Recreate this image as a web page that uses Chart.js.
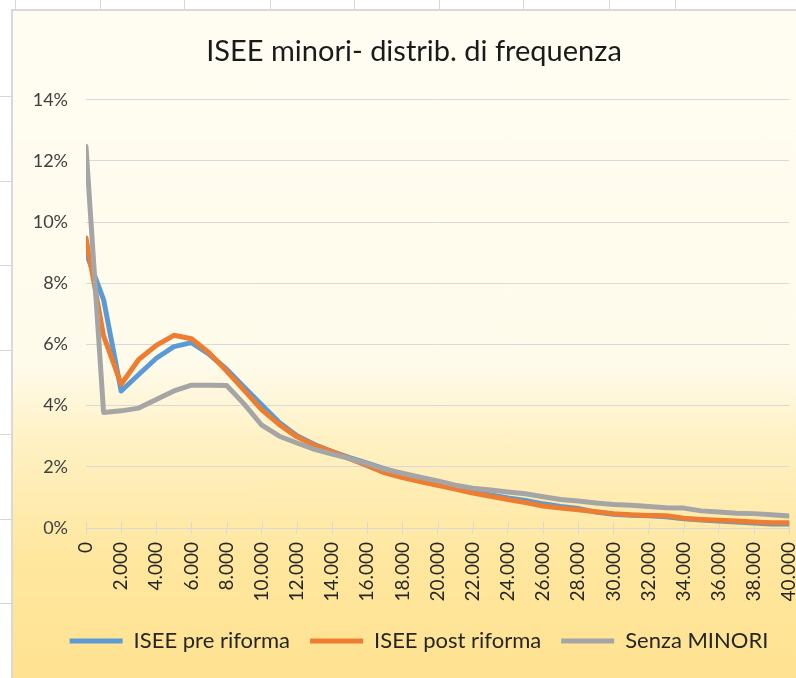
<!DOCTYPE html>
<html>
<head>
<meta charset="utf-8">
<script src="https://cdn.jsdelivr.net/npm/chart.js@4.4.0/dist/chart.umd.min.js"></script>
<style>
    html, body {
        margin: 0;
        padding: 0;
        background: #fff;
        width: 796px;
        height: 678px;
        overflow: hidden;
        position: relative;
        font-family: Lato, sans-serif;
    }
    .hl { position: absolute; left: 0; width: 12px; height: 1px; background: #d6d6d6; }
    .vl { position: absolute; top: 0; width: 1px; height: 10px; background: #d6d6d6; }
    #box {
        position: absolute;
        left: 11px;
        top: 9px;
        width: 807px;
        height: 680px;
        border: 2px solid #d9d9d9;
        background: linear-gradient(to bottom, #fffdf2 0%, #fffbeb 52%, #fff1c4 63%, #ffe79f 80%, #ffe290 100%);
    }
    #wrap { position: relative; width: 807px; height: 680px; }
</style>
</head>
<body>
<div class="vl" style="left:15px"></div>
<div class="vl" style="left:100px"></div>
<div class="vl" style="left:184px"></div>
<div class="vl" style="left:270px"></div>
<div class="vl" style="left:354px"></div>
<div class="vl" style="left:439px"></div>
<div class="vl" style="left:523px"></div>
<div class="vl" style="left:609px"></div>
<div class="vl" style="left:675px"></div>
<div class="hl" style="top:96px"></div>
<div class="hl" style="top:181px"></div>
<div class="hl" style="top:265px"></div>
<div class="hl" style="top:350px"></div>
<div class="hl" style="top:434px"></div>
<div class="hl" style="top:519px"></div>
<div class="hl" style="top:603px"></div>
<div id="box"><div id="wrap"><canvas id="chart"></canvas></div></div>
<script>
    // importi ISEE (euro), un punto ogni 1.000
    const categories = [
        0, 1000, 2000, 3000, 4000, 5000, 6000, 7000, 8000, 9000,
        10000, 11000, 12000, 13000, 14000, 15000, 16000, 17000, 18000, 19000,
        20000, 21000, 22000, 23000, 24000, 25000, 26000, 27000, 28000, 29000,
        30000, 31000, 32000, 33000, 34000, 35000, 36000, 37000, 38000, 39000,
        40000,
    ];

    const xTickLabels = [
        "0", "2.000", "4.000", "6.000", "8.000", "10.000", "12.000", "14.000",
        "16.000", "18.000", "20.000", "22.000", "24.000", "26.000", "28.000",
        "30.000", "32.000", "34.000", "36.000", "38.000", "40.000",
    ];

    // frequenze in %
    const iseePre = [
        9.0, 7.47, 4.48, 5.02, 5.55, 5.93, 6.06, 5.68, 5.19, 4.6,
        4.02, 3.45, 3.02, 2.73, 2.5, 2.3, 2.12, 1.93, 1.76, 1.6,
        1.45, 1.32, 1.2, 1.08, 0.98, 0.9, 0.79, 0.7, 0.64, 0.52,
        0.45, 0.42, 0.4, 0.37, 0.3, 0.26, 0.23, 0.2, 0.16, 0.13,
        0.13,
    ];

    const iseePost = [
        9.48, 6.28, 4.7, 5.51, 5.97, 6.3, 6.19, 5.73, 5.13, 4.5,
        3.86, 3.38, 2.98, 2.7, 2.5, 2.27, 2.04, 1.8, 1.65, 1.52,
        1.4, 1.27, 1.14, 1.04, 0.93, 0.83, 0.72, 0.65, 0.6, 0.53,
        0.47, 0.43, 0.41, 0.4, 0.32, 0.28, 0.25, 0.23, 0.2, 0.17,
        0.17,
    ];

    const senzaMinori = [
        12.47, 3.78, 3.83, 3.92, 4.2, 4.48, 4.67, 4.67, 4.66, 4.05,
        3.36, 3.0, 2.78, 2.57, 2.42, 2.27, 2.1, 1.92, 1.79, 1.66,
        1.54, 1.4, 1.3, 1.24, 1.18, 1.12, 1.02, 0.93, 0.88, 0.82,
        0.77, 0.74, 0.7, 0.66, 0.65, 0.56, 0.52, 0.48, 0.47, 0.43,
        0.39,
    ];

    function toPoints(values) {
        return categories.map((c, i) => ({ x: c, y: values[i] }));
    }

    function makeSeries(label, values, color, order) {
        return {
            label: label,
            data: toPoints(values),
            borderColor: color,
            backgroundColor: color,
            borderWidth: 5,
            borderCapStyle: "round",
            borderJoinStyle: "round",
            pointRadius: 0,
            pointHoverRadius: 0,
            tension: 0,
            order: order,
        };
    }

    // trattini dell'asse X che attraversano la linea (stile Excel)
    const crossTicks = {
        id: "crossTicks",
        beforeDatasetsDraw(chart) {
            const x = chart.scales.x;
            const ctx = chart.ctx;
            ctx.save();
            ctx.strokeStyle = "#d9d9d9";
            ctx.lineWidth = 1;
            x.ticks.forEach((t) => {
                const px = Math.round(x.getPixelForValue(t.value)) + 0.5;
                ctx.beginPath();
                ctx.moveTo(px, x.top - 6);
                ctx.lineTo(px, x.top);
                ctx.stroke();
            });
            ctx.restore();
        },
    };

    // titolo e legenda un po' spostati a destra come nel grafico Excel
    const shiftBoxes = {
        id: "shiftBoxes",
        afterLayout(chart) {
            chart.titleBlock.left += 6;
            chart.titleBlock.right += 6;
            chart.legend.left += 11;
            chart.legend.right += 11;
        },
    };

    new Chart(document.querySelector("#chart"), {
        type: "line",
        data: {
            datasets: [
                makeSeries("ISEE pre riforma", iseePre, "#5b9bd5", 3),
                makeSeries("ISEE post riforma", iseePost, "#ed7d31", 2),
                makeSeries("Senza MINORI", senzaMinori, "#a5a5a5", 1),
            ],
        },
        options: {
            responsive: true,
            maintainAspectRatio: false,
            animation: false,
            layout: {
                padding: { left: 0, right: 17, top: 0, bottom: 29 },
            },
            scales: {
                x: {
                    type: "linear",
                    min: 0,
                    max: 40000,
                    afterFit: (scale) => {
                        scale.height = 82;
                    },
                    ticks: {
                        stepSize: 2000,
                        autoSkip: false,
                        maxRotation: 90,
                        minRotation: 90,
                        padding: 8,
                        color: "#262626",
                        font: { family: "Lato", size: 19 },
                        callback: (v) => xTickLabels[v / 2000],
                    },
                    grid: {
                        drawOnChartArea: false,
                        color: "#d9d9d9",
                        tickLength: 6,
                    },
                    border: { color: "#d9d9d9" },
                },
                y: {
                    min: 0,
                    max: 14,
                    afterFit: (scale) => {
                        scale.width = 73;
                    },
                    ticks: {
                        stepSize: 2,
                        padding: 18,
                        color: "#404040",
                        font: { family: "Lato", size: 18 },
                        callback: (v) => v + "%",
                    },
                    grid: {
                        color: "#d9d9d9",
                        drawTicks: false,
                    },
                    border: { display: false },
                },
            },
            plugins: {
                title: {
                    display: true,
                    text: "ISEE minori- distrib. di frequenza",
                    color: "#1a1a1a",
                    font: { family: "Lato", size: 29, weight: "normal" },
                    padding: { top: 23, bottom: 31 },
                },
                legend: {
                    display: true,
                    position: "bottom",
                    labels: {
                        usePointStyle: true,
                        pointStyle: "line",
                        pointStyleWidth: 53,
                        padding: 20,
                        color: "#262626",
                        font: { family: "Lato", size: 22 },
                        sort: (a, b) => a.datasetIndex - b.datasetIndex,
                    },
                },
                tooltip: { enabled: false },
            },
        },
        plugins: [crossTicks, shiftBoxes],
    });
</script>
</body>
</html>
